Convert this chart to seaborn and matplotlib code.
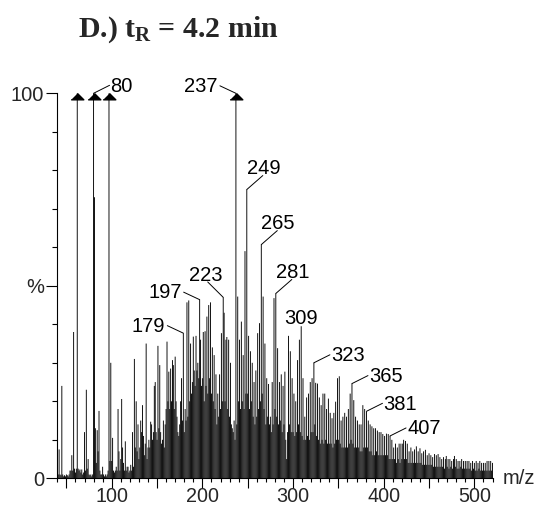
import matplotlib
matplotlib.use("Agg")
import matplotlib.pyplot as plt
from matplotlib.ticker import FixedLocator, MultipleLocator, FuncFormatter
import pandas as pd
import seaborn as sns

# ---------------- data ----------------
mz = list(range(40, 521))
intensity = [
    5, 1, 7.5, 1, 0.8, 24, 1, 0.5, 0.8, 0.5,            # 40
    1, 0.8, 0.5, 1, 2, 2, 6, 2, 38, 2.5,                # 50
    1.5, 2.5, 100, 2.5, 2, 2.3, 1.5, 2.3, 1, 1.5,       # 60
    12, 2, 23, 2.5, 5, 1, 0.8, 1, 0.5, 1,               # 70
    100, 73, 13, 4, 12.5, 7, 17.5, 2, 1, 1,             # 80
    3, 1, 0.5, 1, 0.5, 1, 2, 100, 4.5, 30,              # 90
    4.5, 10.5, 2, 1.5, 2, 3, 2, 18, 7, 2,               # 100
    5, 20.6, 8, 4, 2, 9.6, 2, 3, 3, 1.5,                # 110
    2, 3.5, 2, 12, 3, 31, 8, 20, 7, 14,                 # 120
    5, 8, 15, 12, 19, 11, 6, 9, 35, 5,                  # 130
    8, 10, 8, 14.7, 14, 10, 12, 24, 25, 12,             # 140
    10, 34.4, 13, 29.4, 12, 9, 10, 15, 8, 14,           # 150
    18, 35.5, 20, 27.7, 18, 28.5, 20, 30.7, 29.4, 18,   # 160
    31.6, 20, 16, 12, 11, 14, 20, 26, 15, 37.7,         # 170
    12, 18, 15, 45.7, 16, 46.2, 20, 35, 22, 25,         # 180
    36.8, 28, 24, 37, 28, 30, 26, 46.4, 36, 24,         # 190
    26, 38, 20, 38.2, 24, 42, 22, 45, 26, 45.7,         # 200
    22, 34, 20, 32, 18, 27, 14, 22, 16, 27,             # 210
    18, 37.7, 20, 47, 43, 20, 36, 36.7, 18, 36,         # 220
    16, 30, 14, 13, 12, 15, 10, 100, 14, 47.2,          # 230
    20, 36, 18, 40.7, 20, 32, 18, 59, 22, 75,           # 240
    22, 37, 18, 33, 20, 30, 16, 25, 14, 28,             # 250
    16, 37.7, 18, 40.3, 20, 60.7, 22, 47.2, 18, 35,     # 260
    14, 26, 16, 24.5, 14, 16, 12, 25, 14, 46.8,         # 270
    18, 48, 16, 33.8, 14, 25, 15, 27, 12, 24,           # 280
    14, 27.7, 10, 5, 12, 37, 14, 33, 12, 26,            # 290
    12, 22, 11, 20, 12, 30.7, 14, 36, 12, 39.5,         # 300
    11, 26, 10, 16, 10, 21, 11, 22, 10, 25,             # 310
    12, 26, 12, 30, 14, 24.8, 11, 24.6, 10, 21,         # 320
    9, 19, 10, 22, 9, 22, 10, 18, 9, 20.7,              # 330
    9, 17, 9, 15.6, 8, 17, 9, 19.9, 10, 26,             # 340
    10, 26.5, 9, 15, 8, 16, 8, 17, 8, 16,               # 350
    8, 18, 9, 22, 10, 24.6, 9, 20.3, 8, 16,             # 360
    8, 15, 8, 14, 7, 14, 7, 19, 8, 18,                  # 370
    8, 17.4, 8, 15, 7, 14, 7, 13.5, 6, 13,              # 380
    6, 13, 7, 12.4, 6, 12, 6, 12, 6, 11.5,              # 390
    6, 11, 6, 11.6, 6, 11.5, 5, 11, 5, 10,              # 400
    5, 8, 5, 9, 4, 8, 5, 9, 4, 9,                       # 410
    5, 9, 10, 5, 9.7, 5, 9, 4, 7, 4,                    # 420
    8, 4, 7, 4, 7.5, 4, 8.3, 4, 7, 4,                   # 430
    7.8, 4, 6.5, 3.5, 7, 3.5, 7.4, 3.5, 6, 3.5,         # 440
    6.5, 3.5, 6, 3.5, 5.5, 3, 6.3, 3, 6, 3,             # 450
    6.3, 3, 5.5, 3, 5, 3, 5.5, 2.5, 5, 5.8,             # 460
    3, 5, 2.5, 5, 3, 4.5, 2.5, 5, 5.8, 3,               # 470
    5, 2.5, 4.5, 2.5, 4.5, 3, 5, 2.5, 4.5, 2.5,         # 480
    4.5, 2.5, 4.5, 2.5, 4.5, 2.5, 4, 2, 4.5, 2.5,       # 490
    4, 2, 4.5, 2, 4, 2.5, 4.5, 2, 4, 2,                 # 500
    4, 2, 4, 2, 4.5, 2, 4.5, 2, 4.5, 2,                 # 510
    4,                                                  # 520
]
label_mz = [80, 179, 197, 223, 237, 249, 265, 281, 309, 323, 365, 381, 407]
y_tick_values = [0, 50, 100]
y_tick_labels = ["0", "%", "100"]
x_tick_values = [100, 200, 300, 400, 500]
title_text = r"D.) t$_\mathbf{R}$ = 4.2 min"
x_axis_text = "m/z"

# ---------------- style ----------------
sns.set_style("ticks")
plt.rcParams["font.family"] = ["Liberation Sans", "DejaVu Sans"]
plt.rcParams["mathtext.fontset"] = "custom"
plt.rcParams["mathtext.bf"] = "Liberation Serif:bold"
plt.rcParams["mathtext.rm"] = "Liberation Serif:bold"
plt.rcParams["mathtext.it"] = "Liberation Serif:bold"

FS = 14.5
W, H = 544, 508

df = pd.DataFrame({"mz": mz, "intensity": intensity})

fig = plt.figure(figsize=(W / 100, H / 100), dpi=100)
ax = fig.add_axes([57.3 / W, 29.7 / H, 435.2 / W, 385.0 / H])

sns.barplot(data=df, x="mz", y="intensity", native_scale=True, width=1.0,
            color="black", saturation=1, linewidth=0, edgecolor="none",
            errorbar=None, snap=False, antialiased=True, ax=ax)

ax.set_xlim(40, 520)
ax.set_ylim(0, 100)
ax.set_xlabel("")
ax.set_ylabel("")
sns.despine(ax=ax)
for s in ("left", "bottom"):
    ax.spines[s].set_linewidth(0.8)
    ax.spines[s].set_color("black")
ax.spines["left"].set_bounds(0, 100)

# x ticks
ax.xaxis.set_major_locator(FixedLocator(list(range(50, 501, 50))))
ax.xaxis.set_major_formatter(
    FuncFormatter(lambda v, p: f"{int(round(v))}" if int(round(v)) in x_tick_values else ""))
ax.xaxis.set_minor_locator(MultipleLocator(10))
ax.tick_params(axis="x", which="major", length=7.2, width=0.8, pad=-0.6,
               labelsize=14.2, color="black", direction="out")
ax.tick_params(axis="x", which="minor", length=2.9, width=0.8, color="black",
               direction="out")

# y ticks
ax.yaxis.set_major_locator(FixedLocator(y_tick_values))
ax.set_yticklabels(y_tick_labels)
ax.yaxis.set_minor_locator(MultipleLocator(10))
ax.tick_params(axis="y", which="major", length=7.9, width=0.8, pad=1.5,
               labelsize=FS, color="black", direction="out")
ax.tick_params(axis="y", which="minor", length=3.8, width=0.8, color="black",
               direction="out")

# off-scale peaks: arrowheads
arrow_mz = [m for m, v in zip(mz, intensity) if v >= 100]
ax.plot(arrow_mz, [100] * len(arrow_mz), ls="none",
        marker=[(-1, -1), (1, -1), (0, 0)], ms=9.1, color="black",
        clip_on=False, zorder=5)

# peak labels
value_of = dict(zip(mz, intensity))
style_of = {80: "R", 179: "L", 197: "L", 223: "UL", 237: "L", 249: "UR",
            265: "UR", 281: "UR", 309: "C", 323: "R", 365: "R", 381: "R",
            407: "R"}
layouts = {
    "R": ((16, 8), (17, 1.8), "left"),
    "L": ((-16, 7.5), (-18, 1.6), "right"),
    "UR": ((16, 14), (0, 15.8), "left"),
    "UL": ((-15.5, 15.4), (-1, 16), "right"),
    "C": (None, (0, 2.7), "center"),
}
for m in label_mz:
    v = min(value_of[m], 100)
    lead, txt, ha = layouts[style_of[m]]
    if lead is not None:
        ax.annotate("", xy=(m, v), xytext=lead, textcoords="offset pixels",
                    arrowprops=dict(arrowstyle="-", color="black", lw=0.7,
                                    shrinkA=0, shrinkB=0), annotation_clip=False)
    ax.annotate(str(m), xy=(m, v), xytext=txt, textcoords="offset pixels",
                ha=ha, va="baseline", fontsize=FS, color="black",
                annotation_clip=False)

# axis unit label
ax.annotate(x_axis_text, xy=(1, 0), xycoords="axes fraction", xytext=(10.5, 0),
            textcoords="offset pixels", ha="left", va="center", fontsize=FS,
            annotation_clip=False)

# title
fig.text(78 / W, 1 - 36.7 / H, title_text, fontsize=21.5, fontweight="bold",
         family=["Liberation Serif"], ha="left", va="baseline")

fig.savefig("out.png", dpi=100)
